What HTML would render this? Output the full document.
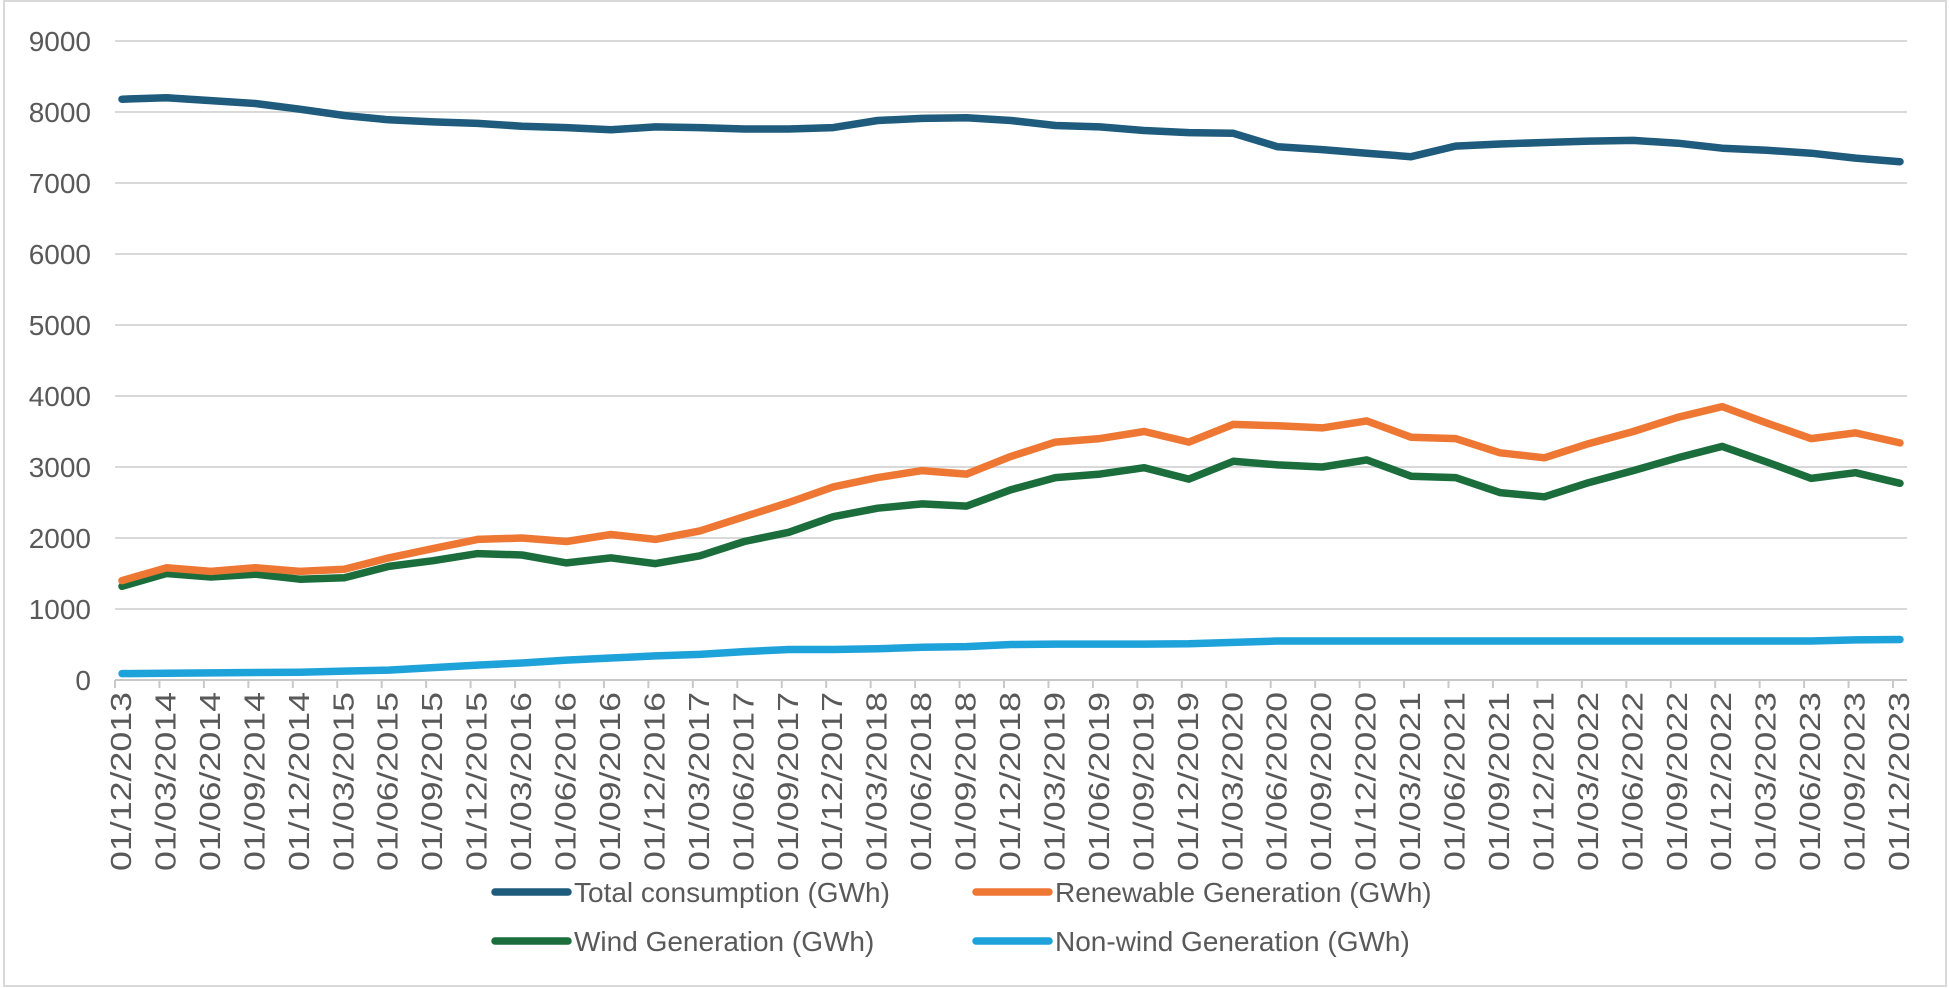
<!DOCTYPE html>
<html><head><meta charset="utf-8"><style>
html,body{margin:0;padding:0;background:#fff;}
svg{display:block;font-family:"Liberation Sans",Arial,sans-serif;}
</style></head><body>
<svg id="chart" width="1949" height="988">
<rect x="4" y="1" width="1942" height="985" fill="#fff" stroke="#d9d9d9" stroke-width="2"/>
<g id="grid"></g><g id="yaxis"></g><g id="xaxis"></g><g id="series"></g><g id="legend"></g>
</svg>
<script>
const categories = ["01/12/2013","01/03/2014","01/06/2014","01/09/2014","01/12/2014","01/03/2015","01/06/2015","01/09/2015","01/12/2015","01/03/2016","01/06/2016","01/09/2016","01/12/2016","01/03/2017","01/06/2017","01/09/2017","01/12/2017","01/03/2018","01/06/2018","01/09/2018","01/12/2018","01/03/2019","01/06/2019","01/09/2019","01/12/2019","01/03/2020","01/06/2020","01/09/2020","01/12/2020","01/03/2021","01/06/2021","01/09/2021","01/12/2021","01/03/2022","01/06/2022","01/09/2022","01/12/2022","01/03/2023","01/06/2023","01/09/2023","01/12/2023"];
const totalConsumption = [8180,8200,8160,8120,8040,7950,7890,7860,7840,7800,7780,7750,7790,7780,7760,7760,7780,7880,7910,7920,7880,7810,7790,7740,7710,7700,7510,7470,7420,7370,7520,7550,7570,7590,7600,7560,7490,7460,7420,7350,7300];
const renewableGen = [1400,1580,1530,1580,1530,1560,1720,1850,1980,2000,1950,2050,1980,2100,2300,2500,2720,2850,2950,2900,3150,3350,3400,3500,3350,3600,3580,3550,3650,3420,3400,3200,3130,3330,3500,3700,3850,3620,3400,3480,3340];
const windGen = [1320,1500,1450,1490,1420,1440,1600,1680,1780,1760,1650,1720,1640,1750,1950,2080,2300,2420,2480,2450,2680,2850,2900,2990,2830,3080,3030,3000,3100,2870,2850,2640,2580,2780,2950,3130,3290,3070,2840,2920,2770];
const nonWindGen = [90,95,100,105,110,125,140,175,210,240,280,310,340,360,400,430,430,440,460,470,500,505,505,505,510,530,550,550,550,550,550,550,550,550,550,550,550,550,550,565,570];
const yTicks = [0,1000,2000,3000,4000,5000,6000,7000,8000,9000];
const seriesNames = ["Total consumption (GWh)","Renewable Generation (GWh)","Wind Generation (GWh)","Non-wind Generation (GWh)"];

const NS="http://www.w3.org/2000/svg";
const X0=122, X1=1900, Y0=680, Y1=41, PL=115, PR=1907;
const xs = i => X0 + (X1-X0)*i/(categories.length-1);
const ys = v => Y0 - (Y0-Y1)*v/9000;
function mk(tag, attrs, parent){const e=document.createElementNS(NS,tag);for(const k in attrs)e.setAttribute(k,attrs[k]);parent.appendChild(e);return e;}
const grid=document.getElementById('grid'), ya=document.getElementById('yaxis'), xa=document.getElementById('xaxis'), sg=document.getElementById('series'), lg=document.getElementById('legend');
yTicks.forEach(t=>{
  const l=mk('line',{x1:PL,x2:PR,y1:ys(t),y2:ys(t),stroke:t===0?'#c8c8c8':'#d9d9d9','stroke-width':2},grid);
  
  
  const tx=mk('text',{x:91,y:ys(t)+10,'text-anchor':'end','font-size':28,fill:'#595959'},ya);
  tx.textContent=t;
  
  
});
categories.forEach((c,i)=>{
  const x=xs(i);
  const tk=mk('line',{x1:x-7,x2:x-7,y1:Y0,y2:Y0+8,stroke:'#c8c8c8','stroke-width':2},xa);
  
  
  const tx=mk('text',{x:0,y:0,'text-anchor':'end','font-size':29,fill:'#595959',textLength:179,lengthAdjust:'spacingAndGlyphs',transform:`translate(${x+9},692) rotate(-90)`},xa);
  tx.textContent=c;
  
  
});
const seriesData=[totalConsumption,renewableGen,windGen,nonWindGen];
const colors=['#1e5b7c','#ee7733','#1b6e3b','#1ea2da'];
const keys=['total-consumption','renewable-generation','wind-generation','non-wind-generation'];
[3,2,1,0].forEach(s=>{
  const pts=seriesData[s].map((v,i)=>xs(i).toFixed(1)+','+ys(v).toFixed(1)).join(' ');
  const p=mk('polyline',{points:pts,fill:'none',stroke:colors[s],'stroke-width':7.5,'stroke-linejoin':'round','stroke-linecap':'round'},sg);
  
  
});
const legPos=[[495,892],[976,892],[495,941],[976,941]];
seriesNames.forEach((n,s)=>{
  const [lx,ly]=legPos[s];
  const g=mk('g',{},lg);
  
  
  mk('line',{x1:lx,x2:lx+73,y1:ly,y2:ly,stroke:colors[s],'stroke-width':7.5,'stroke-linecap':'round'},g);
  const t=mk('text',{x:lx+79,y:ly+10,'font-size':28,fill:'#595959'},g);
  t.textContent=n;
});
</script>
</body></html>
